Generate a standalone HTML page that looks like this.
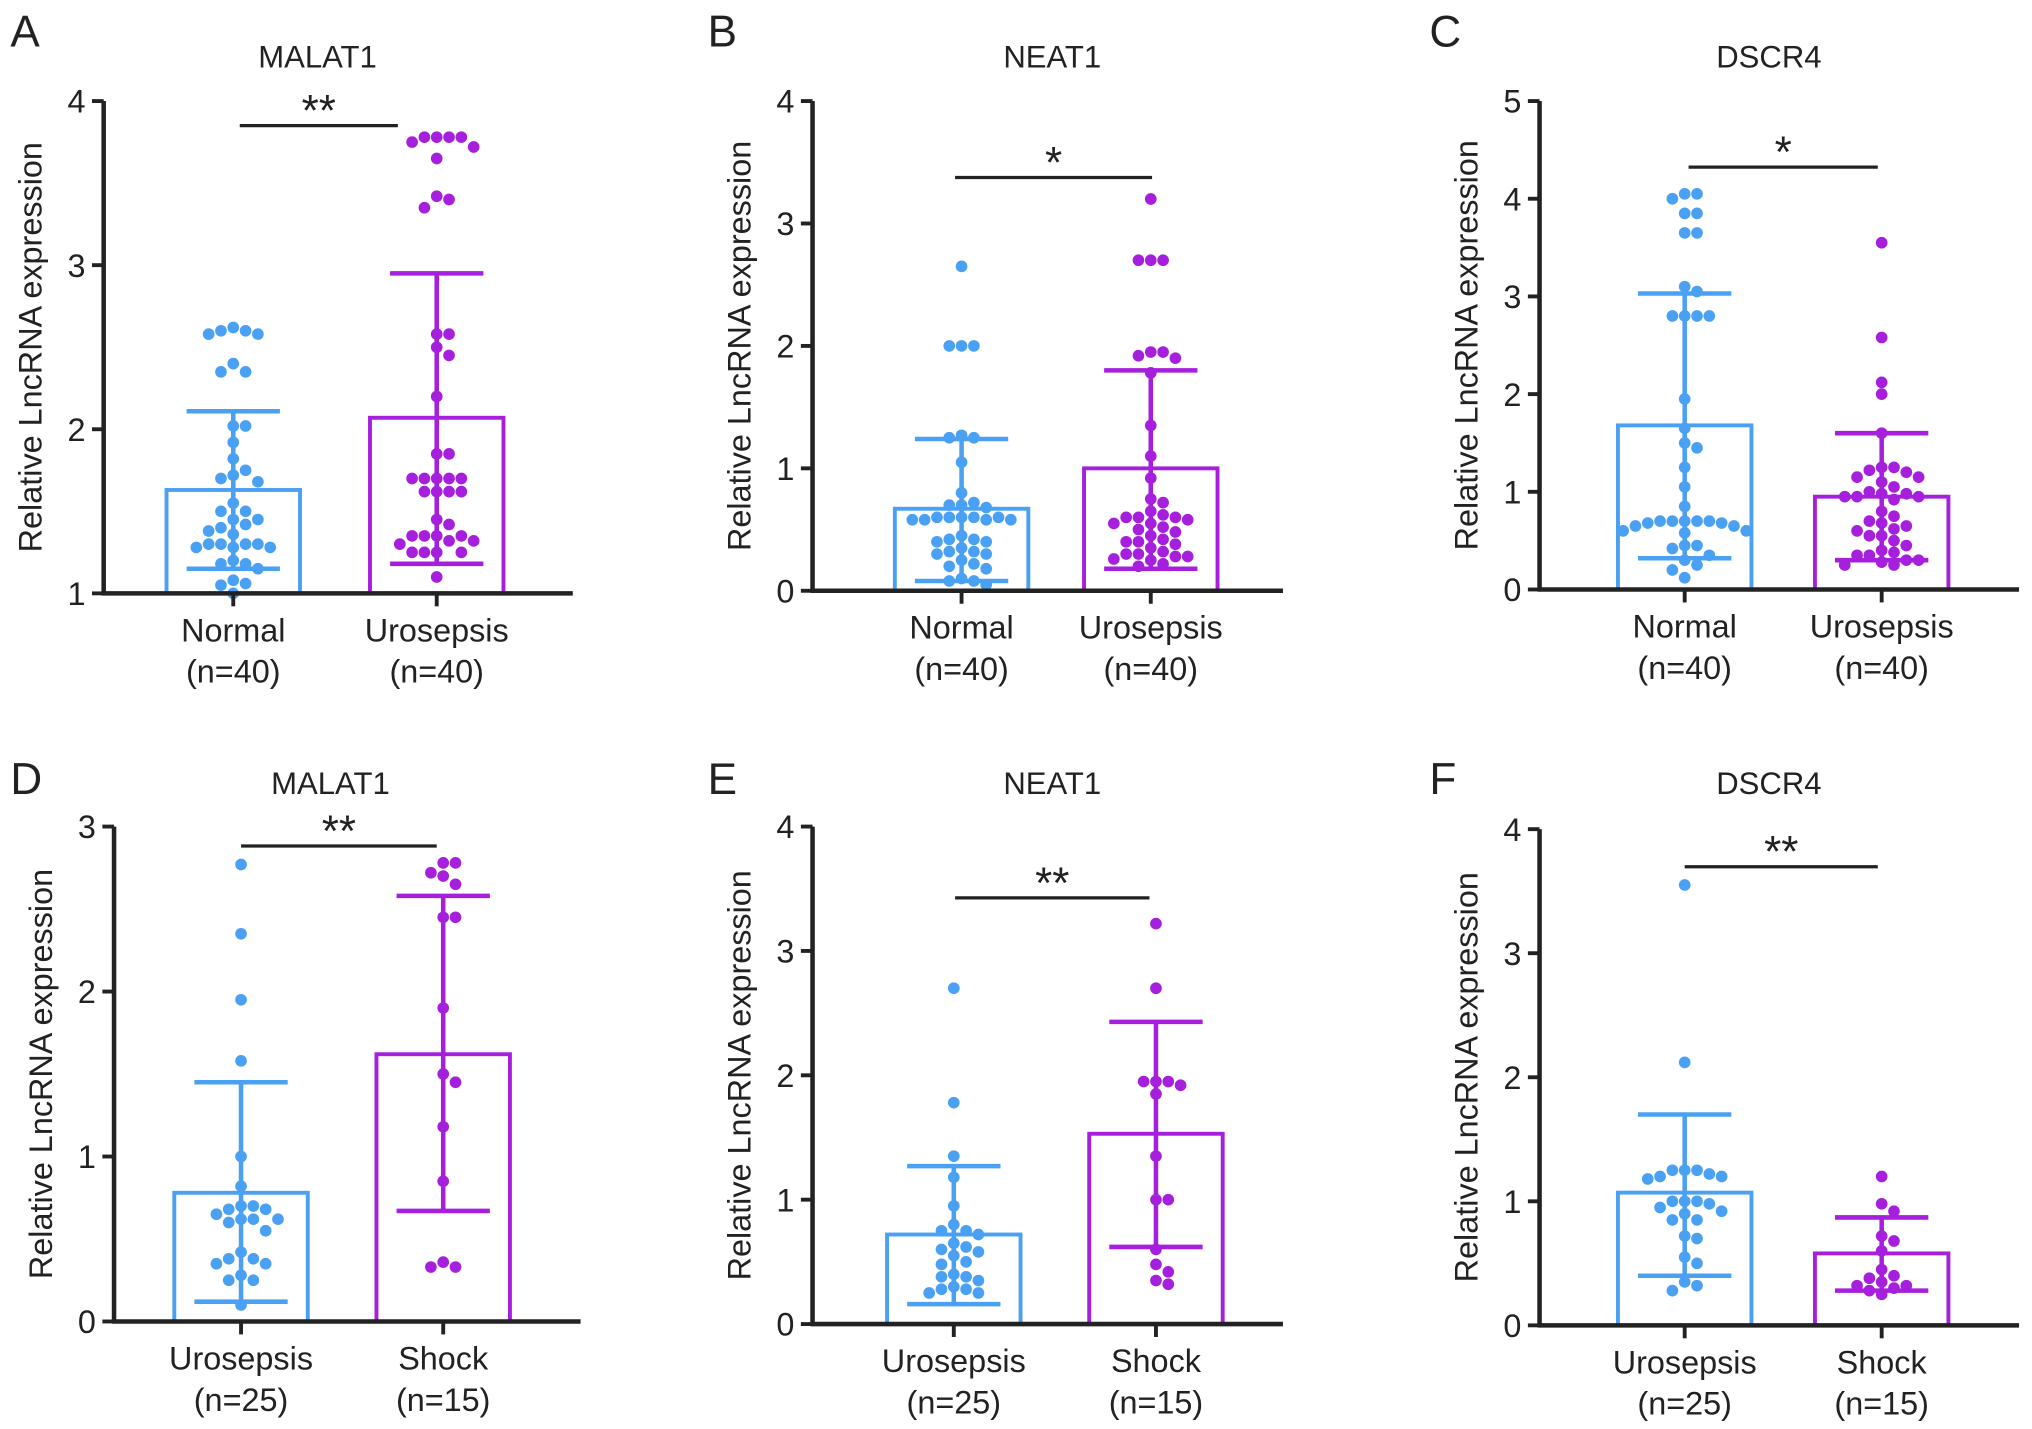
<!DOCTYPE html>
<html><head><meta charset="utf-8">
<style>
html,body{margin:0;padding:0;background:#fff;}
svg{display:block;}
text{font-family:"Liberation Sans",Arial,sans-serif;fill:#222;}
</style></head>
<body>
<svg id="fig" width="2032" height="1429" viewBox="0 0 1568 1103" preserveAspectRatio="none" xmlns="http://www.w3.org/2000/svg"></svg>
<script>
// ---- data ----
const panelLetters = ["A","B","C","D","E","F"];
const panelTitles = ["MALAT1","NEAT1","DSCR4","MALAT1","NEAT1","DSCR4"];
const panelSig = ["**","*","*","**","**","**"];
const catsRow1 = ["Normal","Urosepsis"];
const catsRow2 = ["Urosepsis","Shock"];
const nRow1 = ["(n=40)","(n=40)"];
const nRow2 = ["(n=25)","(n=15)"];
const yTicksA = [1,2,3,4];
const yTicksB = [0,1,2,3,4];
const yTicksC = [0,1,2,3,4,5];
const yTicksD = [0,1,2,3];
const yTicksE = [0,1,2,3,4];
const yTicksF = [0,1,2,3,4];
const meansA = [1.63,2.07], errHiA = [2.11,2.95], errLoA = [1.15,1.18];
const meansB = [0.67,1.0], errHiB = [1.24,1.8], errLoB = [0.08,0.18];
const meansC = [1.68,0.95], errHiC = [3.03,1.6], errLoC = [0.32,0.3];
const meansD = [0.78,1.62], errHiD = [1.45,2.58], errLoD = [0.12,0.67];
const meansE = [0.72,1.53], errHiE = [1.27,2.43], errLoE = [0.16,0.62];
const meansF = [1.07,0.58], errHiF = [1.7,0.87], errLoF = [0.4,0.28];
const dotsA0 = [2.6,2.6,2.58,2.58,2.62,2.4,2.35,2.35,2.02,2.02,1.92,1.82,1.75,1.72,1.7,1.68,1.55,1.5,1.5,1.45,1.45,1.42,1.4,1.38,1.36,1.3,1.3,1.28,1.28,1.28,1.3,1.3,1.2,1.18,1.18,1.15,1.08,1.06,1.05,1.0];
const dotsA1 = [3.78,3.78,3.78,3.75,3.78,3.72,3.65,3.42,3.4,3.35,2.58,2.58,2.5,2.45,2.2,1.85,1.85,1.7,1.7,1.7,1.7,1.7,1.62,1.62,1.62,1.62,1.45,1.42,1.35,1.35,1.35,1.35,1.32,1.32,1.3,1.25,1.25,1.25,1.25,1.1];
const dotsB0 = [2.65,2.0,2.0,2.0,1.27,1.25,1.25,1.05,0.8,0.72,0.7,0.7,0.68,0.6,0.58,0.58,0.6,0.6,0.58,0.58,0.6,0.6,0.45,0.42,0.4,0.4,0.42,0.35,0.32,0.32,0.3,0.3,0.25,0.22,0.2,0.18,0.1,0.08,0.08,0.05];
const dotsB1 = [3.2,2.7,2.7,2.7,1.95,1.95,1.92,1.9,1.78,1.35,1.1,0.92,0.75,0.72,0.65,0.62,0.6,0.6,0.58,0.55,0.52,0.5,0.48,0.45,0.42,0.4,0.4,0.38,0.35,0.32,0.3,0.3,0.28,0.28,0.26,0.25,0.22,0.2,0.6,0.55];
const dotsC0 = [4.05,4.05,4.0,3.85,3.85,3.65,3.65,3.1,3.05,2.8,2.8,2.8,2.8,1.95,1.65,1.5,1.45,1.25,1.05,0.85,0.7,0.7,0.7,0.68,0.68,0.65,0.7,0.7,0.65,0.6,0.6,0.58,0.45,0.45,0.42,0.35,0.3,0.25,0.2,0.12];
const dotsC1 = [3.55,2.58,2.12,2.0,1.6,1.25,1.25,1.22,1.2,1.15,1.15,1.1,1.05,1.0,0.98,0.98,0.95,0.95,0.95,0.92,0.8,0.75,0.7,0.68,0.65,0.62,0.6,0.55,0.55,0.5,0.45,0.4,0.38,0.35,0.35,0.3,0.3,0.28,0.25,0.25];
const dotsD0 = [2.77,2.35,1.95,1.58,1.0,0.82,0.7,0.7,0.68,0.68,0.65,0.62,0.62,0.6,0.62,0.55,0.42,0.38,0.38,0.35,0.35,0.28,0.25,0.25,0.1];
const dotsD1 = [2.78,2.78,2.72,2.7,2.65,2.45,2.45,1.9,1.5,1.45,1.18,0.85,0.36,0.33,0.33];
const dotsE0 = [2.7,1.78,1.35,1.18,0.95,0.8,0.75,0.75,0.72,0.65,0.62,0.6,0.58,0.55,0.5,0.48,0.4,0.38,0.38,0.35,0.3,0.28,0.28,0.25,0.25];
const dotsE1 = [3.22,2.7,1.95,1.95,1.95,1.92,1.85,1.35,1.0,1.0,0.6,0.48,0.42,0.35,0.32];
const dotsF0 = [3.55,2.12,1.25,1.25,1.25,1.22,1.2,1.18,1.2,1.0,1.0,1.0,0.98,0.95,0.92,0.9,0.85,0.85,0.72,0.7,0.55,0.5,0.35,0.32,0.28];
const dotsF1 = [1.2,0.98,0.92,0.72,0.68,0.6,0.45,0.4,0.38,0.35,0.32,0.32,0.3,0.28,0.25];

const data = [
 {t:yTicksA,m:meansA,h:errHiA,l:errLoA,d:[dotsA0,dotsA1],c:catsRow1,n:nRow1},
 {t:yTicksB,m:meansB,h:errHiB,l:errLoB,d:[dotsB0,dotsB1],c:catsRow1,n:nRow1},
 {t:yTicksC,m:meansC,h:errHiC,l:errLoC,d:[dotsC0,dotsC1],c:catsRow1,n:nRow1},
 {t:yTicksD,m:meansD,h:errHiD,l:errLoD,d:[dotsD0,dotsD1],c:catsRow2,n:nRow2},
 {t:yTicksE,m:meansE,h:errHiE,l:errLoE,d:[dotsE0,dotsE1],c:catsRow2,n:nRow2},
 {t:yTicksF,m:meansF,h:errHiF,l:errLoF,d:[dotsF0,dotsF1],c:catsRow2,n:nRow2}
];
// ---- layout ----
const layout = [
 {ax:80,top:78,bot:458,xe:442,cx:[180,337],tx:245,ty:52,lx:8,ly:36,sy:97,sx:[185,307]},
 {ax:627,top:78,bot:456,xe:990,cx:[742,888],tx:812,ty:52,lx:546,ly:36,sy:137,sx:[737,889]},
 {ax:1188,top:78,bot:455,xe:1558,cx:[1300,1452],tx:1365,ty:52,lx:1103,ly:36,sy:129,sx:[1303,1449]},
 {ax:88,top:638,bot:1020,xe:448,cx:[186,342],tx:255,ty:613,lx:8,ly:613,sy:653,sx:[186,337]},
 {ax:627,top:638,bot:1022,xe:990,cx:[736,892],tx:812,ty:613,lx:546,ly:613,sy:693,sx:[737,887]},
 {ax:1188,top:640,bot:1023,xe:1558,cx:[1300,1452],tx:1365,ty:613,lx:1103,ly:613,sy:669,sx:[1300,1449]}
];
const colors = ["#4aa0f2","#a51fdc"];
const NS="http://www.w3.org/2000/svg";
const svg=document.getElementById('fig');
function mk(tag,attrs,parent,txt){const e=document.createElementNS(NS,tag);for(const k in attrs)e.setAttribute(k,attrs[k]);if(txt!==undefined)e.textContent=txt;(parent||svg).appendChild(e);return e;}

data.forEach((D,pi)=>{
  const L=layout[pi];
  const g=mk('g',{});
  
  
  const ymin=D.t[0], ymax=D.t[D.t.length-1];
  const y=v=>L.bot-(v-ymin)/(ymax-ymin)*(L.bot-L.top);
  let e;
  e=mk('text',{x:L.lx,y:L.ly,'font-size':34},g,panelLetters[pi]);
  
  e=mk('text',{x:L.tx,y:L.ty,'font-size':24,'text-anchor':'middle'},g,panelTitles[pi]);
  
  const ym=(L.top+L.bot)/2;
  e=mk('text',{x:0,y:0,'font-size':25,'text-anchor':'middle',transform:`translate(${L.ax-48},${ym}) rotate(-90)`},g,'Relative LncRNA expression');
  
  for(let k=0;k<2;k++){
    const cx=L.cx[k], bw=103, col=colors[k];
    e=mk('rect',{x:cx-bw/2,y:y(D.m[k]),width:bw,height:L.bot-y(D.m[k]),fill:'none',stroke:col,'stroke-width':3},g);
    
    e=mk('path',{d:`M${cx},${y(D.h[k])}V${y(D.l[k])}M${cx-36},${y(D.h[k])}H${cx+36}M${cx-36},${y(D.l[k])}H${cx+36}`,stroke:col,'stroke-width':3.5,fill:'none'},g);
    
    const vals=D.d[k].slice().sort((a,b)=>b-a);
    const placed=[]; const r=4.5, dd=9.5;
    vals.forEach(v=>{
      const py=y(v); let off=0;
      for(let s=0;s<40;s++){
        const cand = s===0?0:(s%2? Math.ceil(s/2)*dd : -Math.ceil(s/2)*dd);
        if(placed.every(p=>Math.hypot(p[0]-cand,p[1]-py)>=dd-0.5)){off=cand;break;}
      }
      placed.push([off,py]);
      const c=mk('circle',{cx:cx+off,cy:py,r:r,fill:col},g);
      
      
    });
    e=mk('line',{x1:cx,x2:cx,y1:L.bot,y2:L.bot+10,stroke:'#222','stroke-width':3},g);
    
    e=mk('text',{x:cx,y:L.bot+37,'font-size':25,'text-anchor':'middle'},g,D.c[k]);
    
    e=mk('text',{x:cx,y:L.bot+69,'font-size':25,'text-anchor':'middle'},g,D.n[k]);
    
  }
  e=mk('line',{x1:L.ax,x2:L.ax,y1:L.top,y2:L.bot+1.5,stroke:'#222','stroke-width':3.5},g);
  
  e=mk('line',{x1:L.ax-1.5,x2:L.xe,y1:L.bot,y2:L.bot,stroke:'#222','stroke-width':3.5},g);
  
  D.t.forEach(t=>{
    let q=mk('line',{x1:L.ax-9,x2:L.ax,y1:y(t),y2:y(t),stroke:'#222','stroke-width':3},g);
    
    q=mk('text',{x:L.ax-14,y:y(t)+9,'font-size':25,'text-anchor':'end'},g,String(t));
    
  });
  e=mk('line',{x1:L.sx[0],x2:L.sx[1],y1:L.sy,y2:L.sy,stroke:'#222','stroke-width':2.5},g);
  
  e=mk('text',{x:(L.sx[0]+L.sx[1])/2,y:L.sy,'font-size':34,'text-anchor':'middle'},g,panelSig[pi]);
  
});
</script>
</body></html>
